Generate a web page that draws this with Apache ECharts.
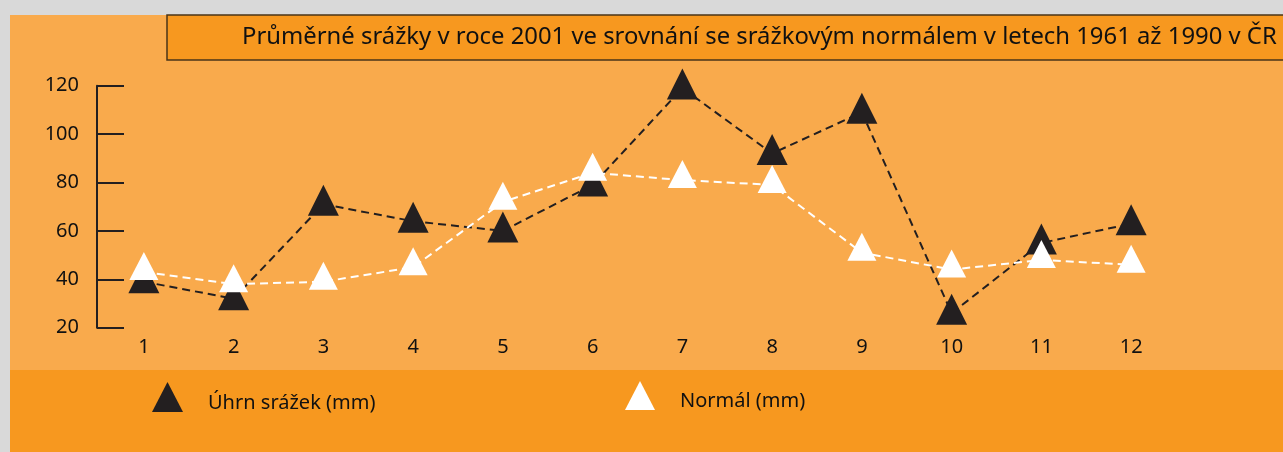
<!DOCTYPE html>
<html>
<head>
<meta charset="utf-8">
<script src="https://cdn.jsdelivr.net/npm/echarts@6/dist/echarts.min.js"></script>
<style>
  html, body { margin: 0; padding: 0; background: #d9d9d9; }
  #chart { width: 1283px; height: 452px; }
</style>
</head>
<body>
<div id="chart"></div>
<script>
// Monthly precipitation in the Czech Republic, 2001 vs. the 1961–1990 normal
const months = ['1', '2', '3', '4', '5', '6', '7', '8', '9', '10', '11', '12'];
const uhrn2001 = [39, 32, 71, 64, 60, 79, 119, 92, 109, 26, 55, 63];
const normal = [43, 38, 39, 45, 72, 84, 81, 79, 51, 44, 48, 46];
const yTicks = { min: 20, max: 120, interval: 20 };

const titleText = 'Průměrné srážky v roce 2001 ve srovnání se srážkovým normálem v letech 1961 až 1990 v ČR';
const nameUhrn = 'Úhrn srážek (mm)';
const nameNormal = 'Normál (mm)';

const FONT = '"Noto Sans", "Open Sans", sans-serif';
const INK = '#231f20';

// legend label sits a little below the icon's centre
const legendText = {
  fontFamily: FONT,
  fontSize: 20,
  color: '#111',
  rich: {
    t: { fontFamily: FONT, fontSize: 20, color: '#111', padding: [12, 0, 0, 20] }
  }
};

const chart = echarts.init(document.getElementById('chart'), null, { renderer: 'canvas' });

chart.setOption({
  backgroundColor: '#d9d9d9',
  animation: false,
  graphic: [
    {
      type: 'rect', z: -10, silent: true,
      shape: { x: 10, y: 15, width: 1273, height: 355 },
      style: { fill: '#f9aa4c' }
    },
    {
      type: 'rect', z: -10, silent: true,
      shape: { x: 10, y: 370, width: 1273, height: 82 },
      style: { fill: '#f7981f' }
    }
  ],
  title: {
    text: titleText,
    left: 167,
    top: 15,
    padding: [10, 60, 10, 75],
    backgroundColor: '#f7981f',
    borderColor: '#4a3418',
    borderWidth: 1.5,
    textStyle: {
      fontFamily: FONT,
      fontSize: 23.85,
      fontWeight: 'normal',
      color: '#111',
      lineHeight: 25
    }
  },
  legend: [
    {
      data: [nameUhrn],
      left: 152,
      top: 382,
      padding: 0,
      icon: 'triangle',
      itemWidth: 31,
      itemHeight: 30,
      formatter: '{t|{name}}',
      textStyle: legendText
    },
    {
      data: [nameNormal],
      left: 625,
      top: 381,
      padding: 0,
      icon: 'triangle',
      itemWidth: 30,
      itemHeight: 29,
      formatter: '{t|{name}}',
      textStyle: legendText
    }
  ],
  grid: {
    left: 99,
    top: 85.7,
    width: 1077,
    height: 242,
    containLabel: false
  },
  xAxis: {
    type: 'category',
    data: months,
    boundaryGap: true,
    axisLine: { show: false },
    axisTick: { show: false },
    splitLine: { show: false },
    axisLabel: {
      fontFamily: FONT,
      fontSize: 20,
      color: '#111',
      margin: 10
    }
  },
  yAxis: {
    type: 'value',
    min: yTicks.min,
    max: yTicks.max,
    interval: yTicks.interval,
    offset: 2,
    axisLine: { show: true, lineStyle: { color: INK, width: 2 } },
    axisTick: { show: true, inside: true, length: 27, lineStyle: { color: INK, width: 2 } },
    splitLine: { show: false },
    axisLabel: {
      fontFamily: FONT,
      fontSize: 20,
      color: '#111',
      margin: 18
    }
  },
  series: [
    {
      name: nameUhrn,
      type: 'line',
      data: uhrn2001,
      symbol: 'triangle',
      symbolSize: [31, 31],
      symbolOffset: [0, -4],
      itemStyle: { color: INK },
      lineStyle: { color: INK, width: 2, type: [8, 5] },
      z: 2
    },
    {
      name: nameNormal,
      type: 'line',
      data: normal,
      symbol: 'triangle',
      symbolSize: [29, 28],
      symbolOffset: [0, -6],
      itemStyle: { color: '#ffffff' },
      lineStyle: { color: '#ffffff', width: 2, type: [8, 5] },
      z: 3
    }
  ]
});
</script>
</body>
</html>
